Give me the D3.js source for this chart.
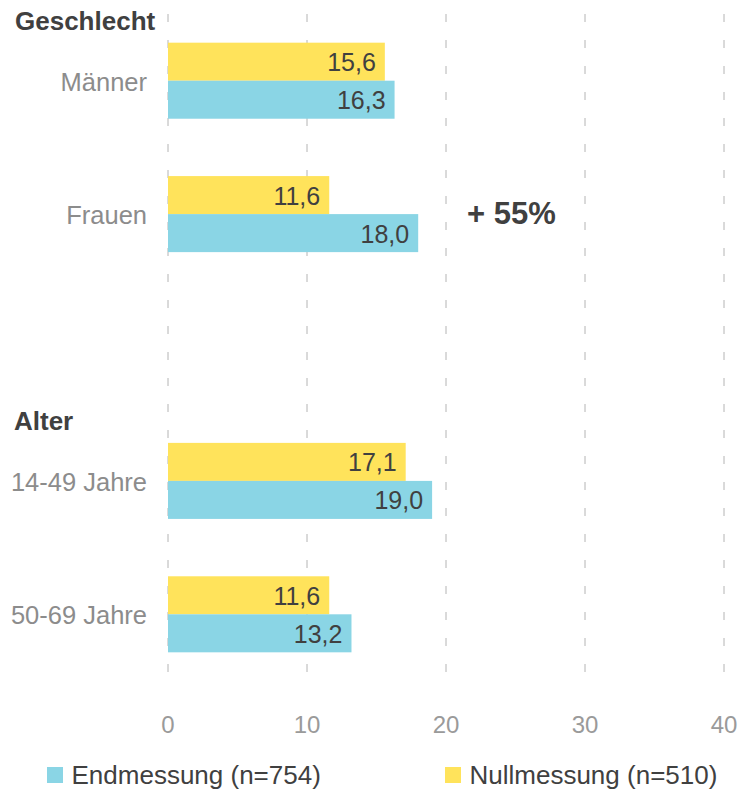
<!DOCTYPE html>
<html>
<head>
<meta charset="utf-8">
<script src="https://cdn.jsdelivr.net/npm/d3@7"></script>
<style>
  html, body { margin: 0; padding: 0; background: #fff; }
  svg { display: block; font-family: "Liberation Sans", Arial, sans-serif; }
</style>
</head>
<body>
<svg id="chart" width="741" height="792"></svg>
<script>
// ---- data ----
const categories = ["Männer", "Frauen", "", "14-49 Jahre", "50-69 Jahre"];
const series = ["Nullmessung (n=510)", "Endmessung (n=754)"];
const nullmessung = [15.6, 11.6, null, 17.1, 11.6];
const endmessung  = [16.3, 18.0, null, 19.0, 13.2];
const xTicks = [0, 10, 20, 30, 40];
const groupHeaders = ["Geschlecht", "Alter"];
const annotation = { text: "+ 55%", category: "Frauen" };

const colors = { "Nullmessung (n=510)": "#FFE35B", "Endmessung (n=754)": "#8AD5E5" };

const svg = d3.select("#chart");

const x = d3.scaleLinear().domain([0, 40]).range([168, 724]);
const y = d3.scaleBand().domain(categories.map((c, i) => i)).range([14, 681])
  .paddingInner(0.43).paddingOuter(0.215);
const ySub = d3.scaleBand().domain(series).range([0, y.bandwidth()]);

// gridlines
svg.append("g").selectAll("line").data(xTicks).join("line")
  .attr("x1", d => x(d)).attr("x2", d => x(d))
  .attr("y1", 14).attr("y2", 686)
  .attr("stroke", "#B4B4B4").attr("stroke-width", 1)
  .attr("stroke-dasharray", "8,18");

// bars
const rows = categories.map((c, i) => ({ i, c, vals: [
  { s: series[0], v: nullmessung[i] },
  { s: series[1], v: endmessung[i] }
]}));

const g = svg.append("g").selectAll("g.row").data(rows.filter(r => r.c !== "")).join("g")
  .attr("transform", r => `translate(0,${y(r.i)})`);

g.selectAll("rect").data(r => r.vals).join("rect")
  .attr("x", x(0))
  .attr("y", d => ySub(d.s))
  .attr("width", d => x(d.v) - x(0))
  .attr("height", ySub.bandwidth())
  .attr("fill", d => colors[d.s]);

g.selectAll("text.val").data(r => r.vals).join("text")
  .attr("class", "val")
  .attr("x", d => x(d.v) - 9)
  .attr("y", d => ySub(d.s) + ySub.bandwidth() / 2 + 9.5)
  .attr("text-anchor", "end")
  .attr("font-size", 25)
  .attr("fill", "#404040")
  .text(d => d3.format(".1f")(d.v).replace(".", ","));

// category labels
g.append("text")
  .attr("x", 147)
  .attr("y", y.bandwidth() / 2 + 10)
  .attr("text-anchor", "end")
  .attr("font-size", 25.5)
  .attr("fill", "#8C8C8C")
  .text(r => r.c);

// group headers
const headerPos = { "Geschlecht": [15, 30], "Alter": [14, 430] };
svg.append("g").selectAll("text").data(groupHeaders).join("text")
  .attr("x", d => headerPos[d][0])
  .attr("y", d => headerPos[d][1])
  .attr("font-size", 26)
  .attr("font-weight", "bold")
  .attr("fill", "#404040")
  .text(d => d);

// annotation
const ai = categories.indexOf(annotation.category);
svg.append("text")
  .attr("x", 467)
  .attr("y", y(ai) + y.bandwidth() / 2 + 10)
  .attr("font-size", 31)
  .attr("font-weight", "bold")
  .attr("fill", "#404040")
  .text(annotation.text);

// x axis tick labels
svg.append("g").selectAll("text").data(xTicks).join("text")
  .attr("x", d => x(d))
  .attr("y", 733)
  .attr("text-anchor", "middle")
  .attr("font-size", 24)
  .attr("fill", "#9A9A9A")
  .text(d => d);

// legend
const legendItems = [
  { s: series[1], x: 47 },
  { s: series[0], x: 445 }
];
const lg = svg.append("g").selectAll("g").data(legendItems).join("g")
  .attr("transform", d => `translate(${d.x},767)`);
lg.append("rect").attr("width", 16).attr("height", 16).attr("fill", d => colors[d.s]);
lg.append("text").attr("x", 24.5).attr("y", 17)
  .attr("font-size", 26).attr("fill", "#404040")
  .text(d => d.s);
</script>
</body>
</html>
